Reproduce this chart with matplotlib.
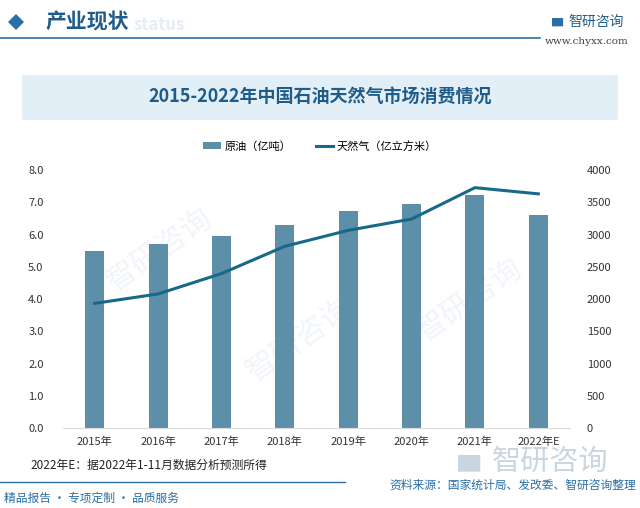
import matplotlib
matplotlib.use("Agg")
import matplotlib.pyplot as plt
from matplotlib.patches import Rectangle, Polygon
from matplotlib.lines import Line2D
import numpy as np

plt.rcParams['font.family'] = ['Noto Sans CJK SC', 'DejaVu Sans']

years = ["2015年", "2016年", "2017年", "2018年", "2019年", "2020年", "2021年", "2022年E"]
oil = [5.49, 5.70, 5.94, 6.30, 6.73, 6.95, 7.22, 6.60]
gas = [1932, 2078, 2394, 2817, 3064, 3240, 3726, 3630]
left_ticks = [0, 1, 2, 3, 4, 5, 6, 7, 8]
right_ticks = [0, 500, 1000, 1500, 2000, 2500, 3000, 3500, 4000]

bar_color = "#5E8FA8"
line_color = "#17698A"
dark_blue = "#1F5C8A"

fig = plt.figure(figsize=(6.4, 5.08), dpi=100)
W, H = 640, 508

def fx(x):
    return x / W

def fy(y):
    return 1 - y / H

# faint watermarks (behind everything)
for (x, y) in [(160, 250), (300, 340), (470, 300)]:
    fig.text(fx(x), fy(y), "智研咨询", fontsize=22, color="#F1F5F9", rotation=35,
             ha="center", va="center", zorder=-1)

# header
fig.patches.append(Polygon([[fx(8), fy(22)], [fx(16), fy(14)], [fx(24), fy(22)], [fx(16), fy(30)]],
                           closed=True, transform=fig.transFigure, facecolor="#2A6EA6",
                           edgecolor="none"))
fig.text(fx(134), fy(25), "status", fontsize=12, color="#E4EDF5", fontweight="bold",
         ha="left", va="center", zorder=1)
fig.text(fx(46), fy(22), "产业现状", fontsize=15, color=dark_blue, fontweight="bold",
         ha="left", va="center", zorder=2)
fig.add_artist(Line2D([0, fx(540)], [fy(38), fy(38)], transform=fig.transFigure,
                      color="#2E6E9E", lw=1.2))
fig.text(fx(552), fy(22), "▆", fontsize=8, color="#2A6EA6", ha="left", va="center")
fig.text(fx(568), fy(22), "智研咨询", fontsize=10, color=dark_blue, ha="left", va="center")
fig.text(fx(545), fy(42), "www.chyxx.com", fontsize=7.5, color="#444444", ha="left",
         va="center", family="DejaVu Serif")

# title box
fig.patches.append(Rectangle((fx(22), fy(120)), fx(618) - fx(22), fy(75) - fy(120),
                             transform=fig.transFigure, facecolor="#E3EFF7", edgecolor="none",
                             zorder=0))
fig.text(0.5, fy(96), "2015-2022年中国石油天然气市场消费情况", fontsize=13, color=dark_blue,
         fontweight="bold", ha="center", va="center")

# axes
ax = fig.add_axes([fx(63), fy(428), fx(570) - fx(63), fy(170) - fy(428)])
ax.patch.set_alpha(0)
x = np.arange(len(years))
bars = ax.bar(x, oil, width=0.3, color=bar_color, label="原油（亿吨）", zorder=2)
ax.set_xlim(-0.5, len(years) - 0.5)
ax.set_ylim(0, 8)
ax.set_yticks(left_ticks)
ax.set_yticklabels([f"{v:.1f}" for v in left_ticks])
ax.set_xticks(x)
ax.set_xticklabels(years)
for s in ["top", "right", "left"]:
    ax.spines[s].set_visible(False)
ax.spines["bottom"].set_color("#D9D9D9")
ax.tick_params(axis="both", length=0, labelsize=8, colors="#333333")
ax.tick_params(axis="y", pad=14)
ax.tick_params(axis="x", pad=6)

ax2 = ax.twinx()
ax2.patch.set_alpha(0)
line, = ax2.plot(x, gas, color=line_color, lw=2.2, label="天然气（亿立方米）", zorder=3)
ax2.set_ylim(0, 4000)
ax2.set_yticks(right_ticks)
ax2.set_yticklabels([str(v) for v in right_ticks])
for s in ["top", "right", "left", "bottom"]:
    ax2.spines[s].set_visible(False)
ax2.tick_params(axis="y", length=0, labelsize=8, colors="#333333", pad=12)

fig.legend(handles=[bars, line], labels=["原油（亿吨）", "天然气（亿立方米）"],
           loc="center", bbox_to_anchor=(0.5, fy(146)), ncol=2, frameon=False,
           fontsize=8, handlelength=1.6, columnspacing=2.2, handletextpad=0.3)

# footer
fig.text(fx(30), fy(465), "2022年E：据2022年1-11月数据分析预测所得", fontsize=8.5,
         color="#222222", ha="left", va="center")
fig.add_artist(Line2D([0, fx(345)], [fy(482), fy(482)], transform=fig.transFigure,
                      color="#2E6E9E", lw=1.0))
fig.text(fx(4), fy(498), "精品报告 · 专项定制 · 品质服务", fontsize=8.5, color="#2A6EA6",
         ha="left", va="center")
fig.text(fx(458), fy(462), "▆", fontsize=16, color="#C9D6E2", ha="left", va="center")
fig.text(fx(492), fy(462), "智研咨询", fontsize=21, color="#C9D6E2", ha="left", va="center")
fig.text(fx(636), fy(485), "资料来源：国家统计局、发改委、智研咨询整理", fontsize=8.5,
         color="#2A6EA6", ha="right", va="center")

fig.savefig("out.png", dpi=100)
